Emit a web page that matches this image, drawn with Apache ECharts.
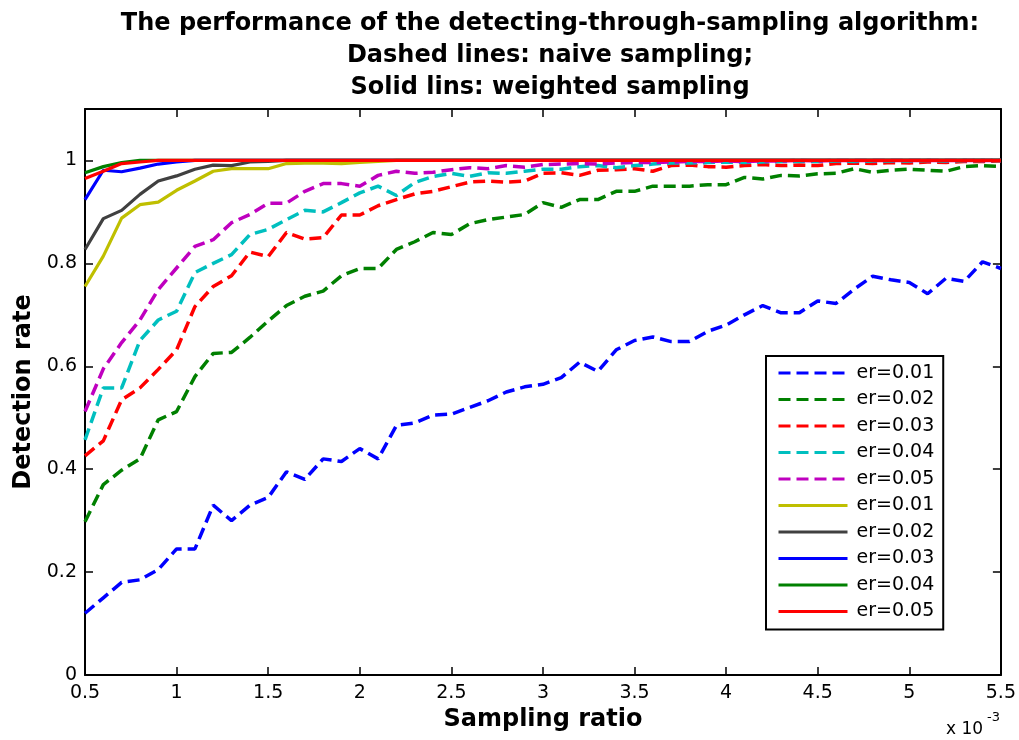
<!DOCTYPE html>
<html>
<head>
<meta charset="utf-8">
<title>detecting-through-sampling</title>
<script src="https://cdn.jsdelivr.net/npm/echarts@6/dist/echarts.min.js"></script>
<style>
    html, body { margin: 0; padding: 0; background: #fff; }
    #main { width: 1019px; height: 740px; }
</style>
</head>
<body>
<div id="main"></div>
<script>

// sampling ratio (x 10^-3)
const ratio = [0.5, 0.6, 0.7, 0.8, 0.9, 1.0, 1.1, 1.2, 1.3, 1.4,
    1.5, 1.6, 1.7, 1.8, 1.9, 2.0, 2.1, 2.2, 2.3, 2.4,
    2.5, 2.6, 2.7, 2.8, 2.9, 3.0, 3.1, 3.2, 3.3, 3.4,
    3.5, 3.6, 3.7, 3.8, 3.9, 4.0, 4.1, 4.2, 4.3, 4.4,
    4.5, 4.6, 4.7, 4.8, 4.9, 5.0, 5.1, 5.2, 5.3, 5.4, 5.5];

// dashed lines: naive sampling
const naive001 = [0.12, 0.15, 0.18, 0.185, 0.205, 0.245, 0.245, 0.33, 0.30, 0.33,
    0.345, 0.395, 0.38, 0.42, 0.415, 0.44, 0.42, 0.485, 0.49, 0.505,
    0.507, 0.52, 0.533, 0.55, 0.56, 0.565, 0.578, 0.608, 0.59, 0.632,
    0.65, 0.657, 0.648, 0.648, 0.668, 0.68, 0.70, 0.718, 0.704, 0.704,
    0.727, 0.722, 0.75, 0.775, 0.768, 0.763, 0.741, 0.771, 0.765, 0.803, 0.79];
const naive002 = [0.298, 0.37, 0.398, 0.42, 0.496, 0.512, 0.58, 0.625, 0.627, 0.656,
    0.688, 0.718, 0.736, 0.746, 0.776, 0.79, 0.79, 0.827, 0.842, 0.86,
    0.856, 0.877, 0.885, 0.89, 0.895, 0.918, 0.909, 0.924, 0.924, 0.94,
    0.94, 0.95, 0.95, 0.95, 0.953, 0.953, 0.967, 0.964, 0.971, 0.97,
    0.974, 0.975, 0.984, 0.977, 0.981, 0.983, 0.981, 0.979, 0.988, 0.99, 0.988];
const naive003 = [0.426, 0.455, 0.535, 0.558, 0.594, 0.632, 0.716, 0.755, 0.776, 0.822,
    0.813, 0.86, 0.847, 0.85, 0.894, 0.894, 0.912, 0.924, 0.935, 0.94,
    0.949, 0.958, 0.96, 0.958, 0.96, 0.975, 0.976, 0.971, 0.981, 0.982,
    0.984, 0.979, 0.99, 0.991, 0.988, 0.987, 0.99, 0.992, 0.99, 0.991,
    0.99, 0.994, 0.995, 0.994, 0.996, 0.995, 0.997, 0.996, 0.998, 0.998, 0.999];
const naive004 = [0.457, 0.558, 0.558, 0.65, 0.69, 0.707, 0.782, 0.80, 0.817, 0.856,
    0.866, 0.885, 0.903, 0.90, 0.918, 0.937, 0.95, 0.932, 0.957, 0.969,
    0.975, 0.969, 0.976, 0.975, 0.979, 0.983, 0.983, 0.988, 0.99, 0.986,
    0.99, 0.993, 0.995, 0.995, 0.996, 0.997, 0.996, 0.997, 0.998, 0.998,
    0.998, 0.999, 0.998, 0.999, 0.999, 0.999, 1.0, 0.999, 1.0, 1.0, 1.0];
const naive005 = [0.512, 0.595, 0.646, 0.69, 0.749, 0.791, 0.833, 0.846, 0.879, 0.895,
    0.917, 0.917, 0.94, 0.955, 0.955, 0.95, 0.971, 0.979, 0.975, 0.977,
    0.982, 0.986, 0.984, 0.99, 0.987, 0.992, 0.993, 0.994, 0.993, 0.995,
    0.996, 0.996, 0.997, 0.998, 0.998, 0.999, 0.998, 0.999, 0.999, 1.0,
    0.999, 1.0, 1.0, 1.0, 1.0, 1.0, 1.0, 1.0, 1.0, 1.0, 1.0];

// solid lines: weighted sampling
const weighted001 = [0.755, 0.814, 0.888, 0.914, 0.919, 0.942, 0.96, 0.979, 0.984, 0.984,
    0.984, 0.994, 0.995, 0.995, 0.994, 0.996, 0.998, 1, 1, 1,
    1, 1, 1, 1, 1, 1, 1, 1, 1, 1,
    1, 1, 1, 1, 1, 1, 1, 1, 1, 1,
    1, 1, 1, 1, 1, 1, 1, 1, 1, 1, 1];
const weighted002 = [0.827, 0.887, 0.903, 0.934, 0.96, 0.970, 0.983, 0.991, 0.990, 0.997,
    0.998, 1, 1, 1, 1, 1, 1, 1, 1, 1,
    1, 1, 1, 1, 1, 1, 1, 1, 1, 1,
    1, 1, 1, 1, 1, 1, 1, 1, 1, 1,
    1, 1, 1, 1, 1, 1, 1, 1, 1, 1, 1];
const weighted003 = [0.924, 0.981, 0.978, 0.985, 0.993, 0.997, 1, 1, 1, 1,
    1, 1, 1, 1, 1, 1, 1, 1, 1, 1,
    1, 1, 1, 1, 1, 1, 1, 1, 1, 1,
    1, 1, 1, 1, 1, 1, 1, 1, 1, 1,
    1, 1, 1, 1, 1, 1, 1, 1, 1, 1, 1];
const weighted004 = [0.976, 0.988, 0.996, 1, 1, 1, 1, 1, 1, 1,
    1, 1, 1, 1, 1, 1, 1, 1, 1, 1,
    1, 1, 1, 1, 1, 1, 1, 1, 1, 1,
    1, 1, 1, 1, 1, 1, 1, 1, 1, 1,
    1, 1, 1, 1, 1, 1, 1, 1, 1, 1, 1];
const weighted005 = [0.965, 0.979, 0.994, 0.997, 1, 1, 1, 1, 1, 1,
    1, 1, 1, 1, 1, 1, 1, 1, 1, 1,
    1, 1, 1, 1, 1, 1, 1, 1, 1, 1,
    1, 1, 1, 1, 1, 1, 1, 1, 1, 1,
    1, 1, 1, 1, 1, 1, 1, 1, 1, 1, 1];

// legend names
const names = ['er=0.01', 'er=0.02', 'er=0.03', 'er=0.04', 'er=0.05'];

// axis ticks
const xTicks = { min: 0.5, max: 5.5, step: 0.5 };
const yTicks = { min: 0, max: 1.1, step: 0.2 };

const FONT = 'DejaVu Sans';

// pair x with y
const toPoints = (ys) => ratio.map((x, i) => [x, ys[i]]);

// one line series
const makeLine = (name, ys, color, dashed) => {
    return {
        name: name,
        type: 'line',
        data: toPoints(ys),
        symbol: 'none',
        showSymbol: false,
        smooth: false,
        animation: false,
        lineStyle: {
            color: color,
            width: dashed ? 3.5 : 3.2,
            type: dashed ? [12, 6] : 'solid',
            cap: 'butt'
        },
        itemStyle: { color: color }
    };
};

const series = [
    makeLine(names[0], naive001, '#0000FF', true),
    makeLine(names[1], naive002, '#008000', true),
    makeLine(names[2], naive003, '#FF0000', true),
    makeLine(names[3], naive004, '#00BFBF', true),
    makeLine(names[4], naive005, '#BF00BF', true),
    makeLine(names[0], weighted001, '#BFBF00', false),
    makeLine(names[1], weighted002, '#404040', false),
    makeLine(names[2], weighted003, '#0000FF', false),
    makeLine(names[3], weighted004, '#008000', false),
    makeLine(names[4], weighted005, '#FF0000', false)
];

// the solid ones reuse the names, so mark them to keep separate legend entries
series.forEach((s, i) => { if (i >= 5) s.name = s.name + '\u200B'; });

const axisCommon = {
    axisLine: { show: true, onZero: false, lineStyle: { color: '#000', width: 2 } },
    axisTick: { show: true, inside: true, length: 8, lineStyle: { color: '#000', width: 1.5 } },
    splitLine: { show: false }
};

const chart = echarts.init(document.getElementById('main'), null, { renderer: 'canvas' });

const option = {
    backgroundColor: '#fff',
    animation: false,
    title: {
        text: 'The performance of the detecting-through-sampling algorithm:\nDashed lines: naive sampling;\nSolid lins: weighted sampling',
        left: 545,
        top: 3,
        textAlign: 'center',
        textStyle: {
            fontFamily: FONT,
            fontWeight: 'bold',
            fontSize: 24,
            lineHeight: 32,
            color: '#000'
        }
    },
    grid: {
        left: 85,
        right: 16,
        top: 109,
        bottom: 65,
        containLabel: false
    },
    legend: {
        orient: 'vertical',
        left: 766,
        top: 356,
        padding: [7, 9, 8, 11],
        itemWidth: 69,
        itemHeight: 14,
        itemGap: 6.5,
        borderColor: '#000',
        borderWidth: 2,
        backgroundColor: '#fff',
        itemStyle: { opacity: 0 },
        lineStyle: { width: 3 },
        data: series.map(s => s.name),
        formatter: (name) => name.replace(/\u200B/g, ''),
        textStyle: {
            fontFamily: FONT,
            fontSize: 19,
            lineHeight: 20,
            color: '#000',
            padding: [0, 0, 0, 4]
        }
    },
    xAxis: [
        Object.assign({
            type: 'value',
            min: xTicks.min,
            max: xTicks.max,
            interval: xTicks.step,
            position: 'bottom',
            name: 'Sampling ratio',
            nameLocation: 'middle',
            nameGap: 30,
            nameTextStyle: { fontFamily: FONT, fontWeight: 'bold', fontSize: 24, color: '#000' },
            axisLabel: { fontFamily: FONT, fontSize: 19, color: '#000', margin: 9 }
        }, axisCommon),
        Object.assign({
            type: 'value',
            min: xTicks.min,
            max: xTicks.max,
            interval: xTicks.step,
            position: 'top',
            axisLabel: { show: false }
        }, axisCommon)
    ],
    yAxis: [
        Object.assign({
            type: 'value',
            min: yTicks.min,
            max: yTicks.max,
            interval: yTicks.step,
            position: 'left',
            name: 'Detection rate',
            nameLocation: 'middle',
            nameGap: 45,
            nameTextStyle: { fontFamily: FONT, fontWeight: 'bold', fontSize: 24, color: '#000' },
            axisLabel: { fontFamily: FONT, fontSize: 19, color: '#000', margin: 8, showMaxLabel: false }
        }, axisCommon),
        Object.assign({
            type: 'value',
            min: yTicks.min,
            max: yTicks.max,
            interval: yTicks.step,
            position: 'right',
            axisLabel: { show: false }
        }, axisCommon)
    ],
    graphic: [
        {
            type: 'text',
            left: 946,
            top: 721,
            style: { text: 'x 10', fontFamily: FONT, fontSize: 17, fill: '#000' }
        },
        {
            type: 'text',
            left: 987,
            top: 711,
            style: { text: '-3', fontFamily: FONT, fontSize: 13, fill: '#000' }
        }
    ],
    series: series
};

chart.setOption(option);

</script>
</body>
</html>
